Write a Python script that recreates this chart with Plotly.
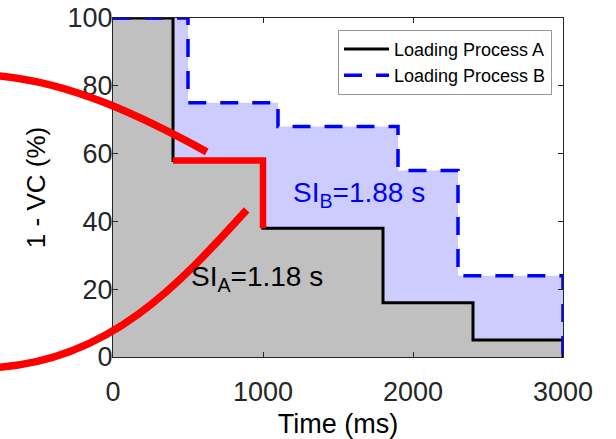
import plotly.graph_objects as go

# Step profiles of 1 - VC (%) over time (ms)
time_a = [0, 400, 1000, 1800, 2400, 3000, 3000]
vc_a = [100, 58, 38, 16, 5, 5, 0]
time_b = [0, 500, 1100, 1900, 2300, 3000, 3000]
vc_b = [100, 75, 68, 55, 24, 24, 0]

# Highlighted step of process A
hl_time = [400, 1000, 1000]
hl_vc = [58, 58, 38]

# Red bracket arcs pointing at the highlighted step:
# cubic Bezier start, control 1, control 2, end (data units)
arc_top_x = [-755, -289, 158, 625]
arc_top_y = [82.9, 80.9, 71.8, 60.5]
arc_bot_x = [-755, -22, 425, 891]
arc_bot_y = [-3.0, -0.4, 20.6, 43.4]

x_ticks = [0, 1000, 2000, 3000]
y_ticks = [0, 20, 40, 60, 80, 100]
X_RANGE = [0, 3000]
Y_RANGE = [0, 100]

FONT = "Liberation Sans, Arial, Helvetica, sans-serif"
AX = "#262626"


def to_paper(x, y):
    return ((x - X_RANGE[0]) / (X_RANGE[1] - X_RANGE[0]),
            (y - Y_RANGE[0]) / (Y_RANGE[1] - Y_RANGE[0]))


def bezier_path(xs, ys):
    p = [to_paper(x, y) for x, y in zip(xs, ys)]
    return "M{:.5f},{:.5f} C{:.5f},{:.5f} {:.5f},{:.5f} {:.5f},{:.5f}".format(
        *p[0], *p[1], *p[2], *p[3])


fig = go.Figure()

# Filled areas
fig.add_trace(go.Scatter(x=time_b, y=vc_b, mode="lines", line_shape="hv",
                         line=dict(width=0), fill="tozeroy",
                         fillcolor="#ccccff", showlegend=False, hoverinfo="skip"))
fig.add_trace(go.Scatter(x=time_a, y=vc_a, mode="lines", line_shape="hv",
                         line=dict(width=0), fill="tozeroy",
                         fillcolor="#c0c0c0", showlegend=False, hoverinfo="skip"))

# Step outlines
fig.add_trace(go.Scatter(x=time_a, y=vc_a, mode="lines", line_shape="hv",
                         line=dict(color="black", width=3),
                         name="Loading Process A"))
fig.add_trace(go.Scatter(x=time_b, y=vc_b, mode="lines", line_shape="hv",
                         line=dict(color="#0000ff", width=3.5, dash="18px,14px"),
                         name="Loading Process B"))

# Highlighted step
fig.add_trace(go.Scatter(x=hl_time, y=hl_vc, mode="lines",
                         line=dict(color="#ff0000", width=6.5),
                         showlegend=False, hoverinfo="skip"))

shapes = [
    dict(type="path", xref="paper", yref="paper", path=bezier_path(arc_top_x, arc_top_y),
         line=dict(color="#ff0000", width=7.5), layer="above"),
    dict(type="path", xref="paper", yref="paper", path=bezier_path(arc_bot_x, arc_bot_y),
         line=dict(color="#ff0000", width=7.5), layer="above"),
]

annotations = [
    dict(x=1640, y=48.0, xref="x", yref="y", text="SI<sub>B</sub>=1.88 s",
         showarrow=False, font=dict(family=FONT, size=28, color="#0000ff")),
    dict(x=961, y=23.2, xref="x", yref="y", text="SI<sub>A</sub>=1.18 s",
         showarrow=False, font=dict(family=FONT, size=28, color="black")),
]

axis_common = dict(showline=True, linecolor=AX, linewidth=1, mirror="ticks",
                   ticks="inside", ticklen=5, tickcolor=AX, showgrid=False,
                   zeroline=False, automargin=False,
                   tickfont=dict(family=FONT, size=27, color=AX))

fig.update_layout(
    width=616, height=439,
    margin=dict(l=113, r=53, t=18, b=82),
    paper_bgcolor="white", plot_bgcolor="white",
    font=dict(family=FONT, color=AX),
    xaxis=dict(range=X_RANGE, tickvals=x_ticks, ticklabelstandoff=11,
               title=dict(text="Time (ms)", font=dict(family=FONT, size=27, color="black"),
                          standoff=8),
               **axis_common),
    yaxis=dict(range=Y_RANGE, tickvals=y_ticks, ticklabelstandoff=-6,
               title=dict(text="1 - VC (%)", font=dict(family=FONT, size=26, color="black"),
                          standoff=14),
               **axis_common),
    legend=dict(x=0.9756, y=0.9655, xanchor="right", yanchor="top",
                bgcolor="white", bordercolor="#999999", borderwidth=1,
                font=dict(family=FONT, size=18, color="black"),
                itemwidth=45, tracegroupgap=0),
    shapes=shapes,
    annotations=annotations,
)

fig.write_html("out.html")
